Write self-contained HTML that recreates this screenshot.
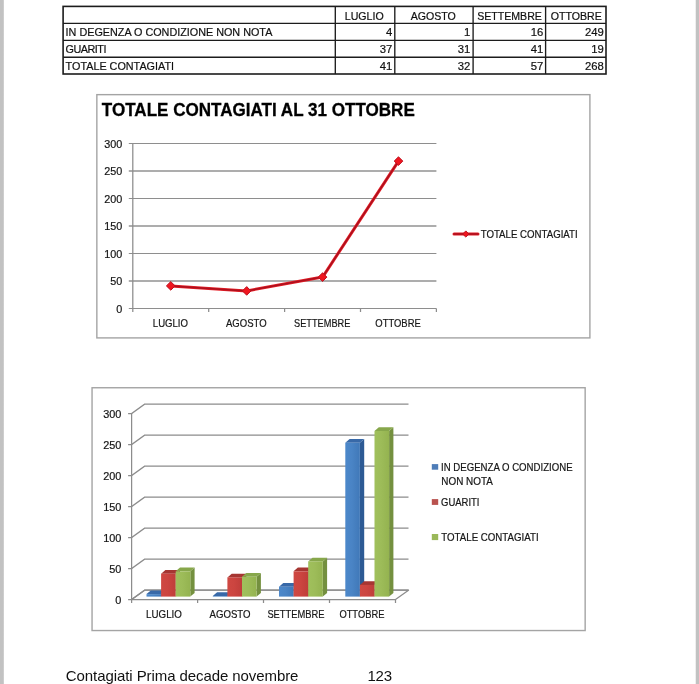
<!DOCTYPE html>
<html lang="it">
<head>
<meta charset="utf-8">
<title>Totale contagiati al 31 ottobre</title>
<style>
html,body{margin:0;padding:0;background:#fff;}
body{width:699px;height:684px;position:relative;overflow:hidden;font-family:'Liberation Sans',sans-serif;color:#111;}
.edgeL{position:absolute;left:0;top:0;width:5px;height:684px;background:linear-gradient(to right,#c2c2c2 0,#c2c2c2 3.3px,#fff 4.4px);}
.edgeR{position:absolute;left:694px;top:0;width:5px;height:684px;background:linear-gradient(to right,#fff 1.2px,#c2c2c2 2.3px,#c2c2c2 5px);}
table.dati{position:absolute;left:63px;top:6px;border-collapse:collapse;border-spacing:0;table-layout:fixed;width:543px;font-size:10.8px;line-height:12px;-webkit-text-stroke:0.2px #111;}
table.dati td{border:0;height:17px;box-sizing:border-box;padding:0 2px 2.5px 2.6px;white-space:nowrap;overflow:hidden;vertical-align:bottom;}
table.dati td.n{text-align:right;padding-right:2.6px;font-size:11.3px;}
table.dati td.h{text-align:center;padding:0 0 1px 0;font-size:10.6px;}
table.dati td.hl{padding-right:1.6px;}
svg{position:absolute;left:0;top:0;}
svg text{font-family:'Liberation Sans',sans-serif;stroke:#222;stroke-width:0.2px;}
.nota{position:absolute;top:667px;font-size:15px;line-height:17px;white-space:nowrap;color:#111;}
</style>
</head>
<body>
<div class="edgeL"></div>
<div class="edgeR"></div>
<table class="dati">
<colgroup><col style="width:272px"><col style="width:60px"><col style="width:78px"><col style="width:73px"><col style="width:60.5px"></colgroup>
<tr><td></td><td class="h hl">LUGLIO</td><td class="h hl">AGOSTO</td><td class="h">SETTEMBRE</td><td class="h">OTTOBRE</td></tr>
<tr><td>IN DEGENZA O CONDIZIONE NON NOTA</td><td class="n">4</td><td class="n">1</td><td class="n">16</td><td class="n">249</td></tr>
<tr><td style="letter-spacing:-0.5px">GUARITI</td><td class="n">37</td><td class="n">31</td><td class="n">41</td><td class="n">19</td></tr>
<tr><td>TOTALE CONTAGIATI</td><td class="n">41</td><td class="n">32</td><td class="n">57</td><td class="n">268</td></tr>
</table>
<svg width="699" height="684" viewBox="0 0 699 684">
<defs>
<linearGradient id="gb" x1="0" x2="1" y1="0" y2="0"><stop offset="0" stop-color="#4c88ca"/><stop offset="0.45" stop-color="#4a84c5"/><stop offset="1" stop-color="#4078b8"/></linearGradient>
<linearGradient id="gr" x1="0" x2="1" y1="0" y2="0"><stop offset="0" stop-color="#cf4842"/><stop offset="0.45" stop-color="#cc4540"/><stop offset="1" stop-color="#bf3e3a"/></linearGradient>
<linearGradient id="gg" x1="0" x2="1" y1="0" y2="0"><stop offset="0" stop-color="#a0c05c"/><stop offset="0.45" stop-color="#9dbc59"/><stop offset="1" stop-color="#94b350"/></linearGradient>
<linearGradient id="fl" x1="0" x2="0" y1="0" y2="1"><stop offset="0" stop-color="#f4f4f4"/><stop offset="1" stop-color="#e6e6e6"/></linearGradient>
</defs>
<g id="tablegrid" stroke="#1c1c1c" stroke-width="1.35" fill="none">
<line x1="63.1" y1="23.3" x2="606.0" y2="23.3"/>
<line x1="63.1" y1="40.4" x2="606.0" y2="40.4"/>
<line x1="63.1" y1="57.2" x2="606.0" y2="57.2"/>
<line x1="335.3" y1="6.4" x2="335.3" y2="74.0"/>
<line x1="394.8" y1="6.4" x2="394.8" y2="74.0"/>
<line x1="473.1" y1="6.4" x2="473.1" y2="74.0"/>
<line x1="545.6" y1="6.4" x2="545.6" y2="74.0"/>
<rect x="63.1" y="6.4" width="542.9" height="67.6" stroke-width="1.6"/>
</g>
<g id="chart1">
<rect x="96.85" y="94.65" width="493.05" height="243.25" fill="#fff" stroke="#a4a4a4" stroke-width="1.4"/>
<text style="stroke:#000;stroke-width:0.3px" x="101.8" y="115.8" font-size="18.6" text-anchor="start" font-weight="bold" fill="#000" textLength="313" lengthAdjust="spacingAndGlyphs">TOTALE CONTAGIATI AL 31 OTTOBRE</text>
<line x1="128.8" y1="308.5" x2="436.4" y2="308.5" stroke="#8e8e8e" stroke-width="1.15"/>
<text x="122.3" y="312.5" font-size="10.8" text-anchor="end" font-weight="normal" fill="#111">0</text>
<line x1="128.8" y1="281.0" x2="436.4" y2="281.0" stroke="#adadad" stroke-width="2"/>
<text x="122.3" y="285.0" font-size="10.8" text-anchor="end" font-weight="normal" fill="#111">50</text>
<line x1="128.8" y1="253.5" x2="436.4" y2="253.5" stroke="#8e8e8e" stroke-width="1.15"/>
<text x="122.3" y="257.5" font-size="10.8" text-anchor="end" font-weight="normal" fill="#111">100</text>
<line x1="128.8" y1="226.0" x2="436.4" y2="226.0" stroke="#adadad" stroke-width="2"/>
<text x="122.3" y="230.0" font-size="10.8" text-anchor="end" font-weight="normal" fill="#111">150</text>
<line x1="128.8" y1="198.5" x2="436.4" y2="198.5" stroke="#8e8e8e" stroke-width="1.15"/>
<text x="122.3" y="202.5" font-size="10.8" text-anchor="end" font-weight="normal" fill="#111">200</text>
<line x1="128.8" y1="171.0" x2="436.4" y2="171.0" stroke="#adadad" stroke-width="2"/>
<text x="122.3" y="175.0" font-size="10.8" text-anchor="end" font-weight="normal" fill="#111">250</text>
<line x1="128.8" y1="143.5" x2="436.4" y2="143.5" stroke="#8e8e8e" stroke-width="1.15"/>
<text x="122.3" y="147.5" font-size="10.8" text-anchor="end" font-weight="normal" fill="#111">300</text>
<line x1="132.8" y1="143.5" x2="132.8" y2="308.5" stroke="#8c8c8c" stroke-width="1.25"/>
<line x1="132.8" y1="308.5" x2="132.8" y2="312.0" stroke="#8c8c8c" stroke-width="1.25"/>
<line x1="208.7" y1="308.5" x2="208.7" y2="312.0" stroke="#8c8c8c" stroke-width="1.25"/>
<line x1="284.6" y1="308.5" x2="284.6" y2="312.0" stroke="#8c8c8c" stroke-width="1.25"/>
<line x1="360.5" y1="308.5" x2="360.5" y2="312.0" stroke="#8c8c8c" stroke-width="1.25"/>
<line x1="436.4" y1="308.5" x2="436.4" y2="312.0" stroke="#8c8c8c" stroke-width="1.25"/>
<text x="152.8" y="327.3" font-size="11" text-anchor="start" font-weight="normal" fill="#111" textLength="35.2" lengthAdjust="spacingAndGlyphs">LUGLIO</text>
<text x="226.0" y="327.3" font-size="11" text-anchor="start" font-weight="normal" fill="#111" textLength="40.6" lengthAdjust="spacingAndGlyphs">AGOSTO</text>
<text x="294.1" y="327.3" font-size="11" text-anchor="start" font-weight="normal" fill="#111" textLength="56.2" lengthAdjust="spacingAndGlyphs">SETTEMBRE</text>
<text x="375.3" y="327.3" font-size="11" text-anchor="start" font-weight="normal" fill="#111" textLength="45.5" lengthAdjust="spacingAndGlyphs">OTTOBRE</text>
<polyline points="170.8,285.9 246.7,290.9 322.6,277.1 398.5,161.1" fill="none" stroke="#e61e26" stroke-width="3" stroke-linejoin="round" stroke-linecap="round"/>
<polyline points="170.8,285.9 246.7,290.9 322.6,277.1 398.5,161.1" fill="none" stroke="#ab101e" stroke-width="1.5" stroke-linejoin="round" stroke-linecap="round"/>
<path d="M170.8,281.6 L175.1,285.9 L170.8,290.2 L166.4,285.9 Z" fill="#f0161f" stroke="#bd1220" stroke-width="1"/>
<path d="M246.7,286.6 L251.0,290.9 L246.7,295.2 L242.4,290.9 Z" fill="#f0161f" stroke="#bd1220" stroke-width="1"/>
<path d="M322.6,272.8 L326.9,277.1 L322.6,281.4 L318.2,277.1 Z" fill="#f0161f" stroke="#bd1220" stroke-width="1"/>
<path d="M398.5,156.8 L402.8,161.1 L398.5,165.4 L394.2,161.1 Z" fill="#f0161f" stroke="#bd1220" stroke-width="1"/>
<line x1="454" y1="234" x2="478" y2="234" stroke="#e61e26" stroke-width="3" stroke-linecap="round"/>
<line x1="454" y1="234" x2="478" y2="234" stroke="#ab101e" stroke-width="1.5" stroke-linecap="round"/>
<path d="M465.8,230.9 L468.9,234.0 L465.8,237.1 L462.7,234.0 Z" fill="#f0161f" stroke="#bd1220" stroke-width="1"/>
<text x="480.7" y="237.9" font-size="10.3" text-anchor="start" font-weight="normal" fill="#111" textLength="97" lengthAdjust="spacingAndGlyphs">TOTALE CONTAGIATI</text>
</g>
<g id="chart2">
<rect x="92.05" y="387.75" width="493.1" height="242.8" fill="#fff" stroke="#a4a4a4" stroke-width="1.4"/>
<path d="M131.6,599.5 L395.5,599.5 L408.5,590.2 L144.6,590.2 Z" fill="#fdfdfd" stroke="#8c8c8c" stroke-width="1.25" stroke-linejoin="round"/>
<path d="M128.1,599.5 L131.6,599.5 L144.6,590.2 L408.5,590.2" fill="none" stroke="#8c8c8c" stroke-width="1.25"/>
<text x="121.3" y="603.6" font-size="10.9" text-anchor="end" font-weight="normal" fill="#111">0</text>
<path d="M128.1,568.5 L131.6,568.5 L144.6,559.2 L408.5,559.2" fill="none" stroke="#8c8c8c" stroke-width="1.25"/>
<text x="121.3" y="572.6" font-size="10.9" text-anchor="end" font-weight="normal" fill="#111">50</text>
<path d="M128.1,537.5 L131.6,537.5 L144.6,528.2 L408.5,528.2" fill="none" stroke="#8c8c8c" stroke-width="1.25"/>
<text x="121.3" y="541.6" font-size="10.9" text-anchor="end" font-weight="normal" fill="#111">100</text>
<path d="M128.1,506.5 L131.6,506.5 L144.6,497.2 L408.5,497.2" fill="none" stroke="#8c8c8c" stroke-width="1.25"/>
<text x="121.3" y="510.6" font-size="10.9" text-anchor="end" font-weight="normal" fill="#111">150</text>
<path d="M128.1,475.5 L131.6,475.5 L144.6,466.2 L408.5,466.2" fill="none" stroke="#8c8c8c" stroke-width="1.25"/>
<text x="121.3" y="479.6" font-size="10.9" text-anchor="end" font-weight="normal" fill="#111">200</text>
<path d="M128.1,444.5 L131.6,444.5 L144.6,435.2 L408.5,435.2" fill="none" stroke="#8c8c8c" stroke-width="1.25"/>
<text x="121.3" y="448.6" font-size="10.9" text-anchor="end" font-weight="normal" fill="#111">250</text>
<path d="M128.1,413.5 L131.6,413.5 L144.6,404.2 L408.5,404.2" fill="none" stroke="#8c8c8c" stroke-width="1.25"/>
<text x="121.3" y="417.6" font-size="10.9" text-anchor="end" font-weight="normal" fill="#111">300</text>
<line x1="131.6" y1="413.5" x2="131.6" y2="603.0" stroke="#8c8c8c" stroke-width="1.25"/>
<line x1="197.6" y1="599.5" x2="197.6" y2="603.0" stroke="#8c8c8c" stroke-width="1.25"/>
<line x1="263.5" y1="599.5" x2="263.5" y2="603.0" stroke="#8c8c8c" stroke-width="1.25"/>
<line x1="329.5" y1="599.5" x2="329.5" y2="603.0" stroke="#8c8c8c" stroke-width="1.25"/>
<line x1="395.5" y1="599.5" x2="395.5" y2="603.0" stroke="#8c8c8c" stroke-width="1.25"/>
<path d="M161.1,596.6 L165.4,592.9 L165.4,590.4 L161.1,594.1 Z" fill="#2d5a94"/>
<path d="M146.5,594.1 L150.8,590.4 L165.4,590.4 L161.1,594.1 Z" fill="#3869a8"/>
<rect x="146.5" y="594.1" width="14.6" height="2.5" fill="url(#gb)"/>
<path d="M175.7,596.6 L180.0,592.9 L180.0,570.0 L175.7,573.7 Z" fill="#8f2d2a"/>
<path d="M161.1,573.7 L165.4,570.0 L180.0,570.0 L175.7,573.7 Z" fill="#a63632"/>
<rect x="161.1" y="573.7" width="14.6" height="22.9" fill="url(#gr)"/>
<path d="M190.3,596.6 L194.6,592.9 L194.6,567.6 L190.3,571.3 Z" fill="#74903f"/>
<path d="M175.7,571.3 L180.0,567.6 L194.6,567.6 L190.3,571.3 Z" fill="#87a74b"/>
<rect x="175.7" y="571.3" width="14.6" height="25.3" fill="url(#gg)"/>
<text x="146.1" y="617.6" font-size="11" text-anchor="start" font-weight="normal" fill="#111" textLength="35.8" lengthAdjust="spacingAndGlyphs">LUGLIO</text>
<path d="M227.4,596.6 L231.7,592.9 L231.7,592.3 L227.4,596.0 Z" fill="#2d5a94"/>
<path d="M212.8,596.0 L217.1,592.3 L231.7,592.3 L227.4,596.0 Z" fill="#3869a8"/>
<rect x="212.8" y="596.0" width="14.6" height="0.6" fill="url(#gb)"/>
<path d="M242.0,596.6 L246.3,592.9 L246.3,573.7 L242.0,577.4 Z" fill="#8f2d2a"/>
<path d="M227.4,577.4 L231.7,573.7 L246.3,573.7 L242.0,577.4 Z" fill="#a63632"/>
<rect x="227.4" y="577.4" width="14.6" height="19.2" fill="url(#gr)"/>
<path d="M256.6,596.6 L260.9,592.9 L260.9,573.1 L256.6,576.8 Z" fill="#74903f"/>
<path d="M242.0,576.8 L246.3,573.1 L260.9,573.1 L256.6,576.8 Z" fill="#87a74b"/>
<rect x="242.0" y="576.8" width="14.6" height="19.8" fill="url(#gg)"/>
<text x="209.5" y="617.6" font-size="11" text-anchor="start" font-weight="normal" fill="#111" textLength="41.0" lengthAdjust="spacingAndGlyphs">AGOSTO</text>
<path d="M293.6,596.6 L297.9,592.9 L297.9,583.0 L293.6,586.7 Z" fill="#2d5a94"/>
<path d="M279.0,586.7 L283.3,583.0 L297.9,583.0 L293.6,586.7 Z" fill="#3869a8"/>
<rect x="279.0" y="586.7" width="14.6" height="9.9" fill="url(#gb)"/>
<path d="M308.2,596.6 L312.5,592.9 L312.5,567.6 L308.2,571.3 Z" fill="#8f2d2a"/>
<path d="M293.6,571.3 L297.9,567.6 L312.5,567.6 L308.2,571.3 Z" fill="#a63632"/>
<rect x="293.6" y="571.3" width="14.6" height="25.3" fill="url(#gr)"/>
<path d="M322.8,596.6 L327.1,592.9 L327.1,557.7 L322.8,561.4 Z" fill="#74903f"/>
<path d="M308.2,561.4 L312.5,557.7 L327.1,557.7 L322.8,561.4 Z" fill="#87a74b"/>
<rect x="308.2" y="561.4" width="14.6" height="35.2" fill="url(#gg)"/>
<text x="267.4" y="617.6" font-size="11" text-anchor="start" font-weight="normal" fill="#111" textLength="57.1" lengthAdjust="spacingAndGlyphs">SETTEMBRE</text>
<path d="M359.9,596.6 L364.2,592.9 L364.2,439.0 L359.9,442.7 Z" fill="#2d5a94"/>
<path d="M345.3,442.7 L349.6,439.0 L364.2,439.0 L359.9,442.7 Z" fill="#3869a8"/>
<rect x="345.3" y="442.7" width="14.6" height="153.9" fill="url(#gb)"/>
<path d="M374.5,596.6 L378.8,592.9 L378.8,581.2 L374.5,584.9 Z" fill="#8f2d2a"/>
<path d="M359.9,584.9 L364.2,581.2 L378.8,581.2 L374.5,584.9 Z" fill="#a63632"/>
<rect x="359.9" y="584.9" width="14.6" height="11.7" fill="url(#gr)"/>
<path d="M389.1,596.6 L393.4,592.9 L393.4,427.3 L389.1,431.0 Z" fill="#74903f"/>
<path d="M374.5,431.0 L378.8,427.3 L393.4,427.3 L389.1,431.0 Z" fill="#87a74b"/>
<rect x="374.5" y="431.0" width="14.6" height="165.6" fill="url(#gg)"/>
<text x="339.4" y="617.6" font-size="11" text-anchor="start" font-weight="normal" fill="#111" textLength="45.0" lengthAdjust="spacingAndGlyphs">OTTOBRE</text>
<rect x="431.8" y="464.1" width="6.4" height="5.6" fill="#4e7db8"/>
<text x="441" y="470.9" font-size="10.3" text-anchor="start" font-weight="normal" fill="#111" textLength="131.6" lengthAdjust="spacingAndGlyphs">IN DEGENZA O CONDIZIONE</text>
<text x="441.3" y="484.6" font-size="10.3" text-anchor="start" font-weight="normal" fill="#111" textLength="51.5" lengthAdjust="spacingAndGlyphs">NON NOTA</text>
<rect x="431.8" y="499.1" width="6.4" height="5.8" fill="#b9524e"/>
<text x="441" y="505.6" font-size="10.3" text-anchor="start" font-weight="normal" fill="#111" textLength="38.5" lengthAdjust="spacingAndGlyphs">GUARITI</text>
<rect x="431.8" y="534" width="6.4" height="6.1" fill="#9ab859"/>
<text x="441.3" y="540.6" font-size="10.3" text-anchor="start" font-weight="normal" fill="#111" textLength="97.3" lengthAdjust="spacingAndGlyphs">TOTALE CONTAGIATI</text>
</g>
</svg>
<div class="nota" style="left:65.8px;letter-spacing:-0.08px">Contagiati Prima decade novembre</div>
<div class="nota" style="left:367.4px;letter-spacing:-0.15px">123</div>
</body>
</html>
